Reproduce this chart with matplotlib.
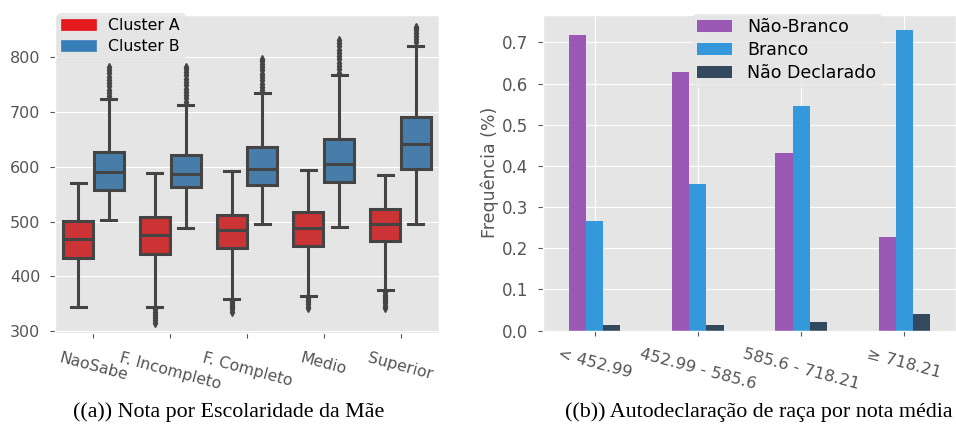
import matplotlib.pyplot as plt
import matplotlib.patches as mpatches
import numpy as np

plt.style.use('ggplot')

# Left panel: box stats
escolaridade = ['NaoSabe', 'F. Incompleto', 'F. Completo', 'Medio', 'Superior']
clusters = ['Cluster A', 'Cluster B']

a_whislo = [345, 344, 359, 364, 375]
a_q1 = [433, 441, 451, 455, 464]
a_med = [469, 476, 484, 488, 496]
a_q3 = [501, 508, 512, 518, 523]
a_whishi = [570, 588, 592, 594, 585]
a_fliers = [[],
            [340, 336, 332, 328, 324, 320, 316],
            [356, 352, 348, 344, 340, 336],
            [361, 357, 353, 349, 345, 342],
            [371, 367, 363, 359, 355, 351, 347, 343]]

b_whislo = [503, 488, 496, 490, 496]
b_q1 = [558, 562, 566, 572, 595]
b_med = [590, 586, 595, 605, 642]
b_q3 = [626, 622, 635, 650, 690]
b_whishi = [723, 713, 734, 766, 820]
b_fliers = [[728, 734, 740, 746, 752, 758, 764, 770, 776, 782],
            [718, 724, 730, 736, 742, 748, 754, 760, 766, 772, 778, 781],
            [739, 745, 751, 757, 763, 769, 775, 781, 787, 792, 796],
            [771, 777, 783, 789, 795, 801, 807, 813, 819, 825, 831],
            [826, 832, 838, 844, 848, 852, 855]]

# Right panel: frequencies
faixas = ['< 452.99', '452.99 - 585.6', '585.6 - 718.21', '\u2265 718.21']
racas = ['Não-Branco', 'Branco', 'Não Declarado']
nao_branco = [0.719, 0.628, 0.432, 0.228]
branco = [0.265, 0.357, 0.545, 0.730]
nao_declarado = [0.014, 0.014, 0.021, 0.040]

fig = plt.figure(figsize=(9.56, 4.30), dpi=100)
fig.patch.set_facecolor('white')

# ---------- boxplot ----------
ax1 = fig.add_axes([55/956, 97/430, 384/956, 318/430])
line_c = '#444444'
box_colors = ['#CB3335', '#477DA8']
x = np.arange(len(escolaridade))

for k, (lo, q1, med, q3, hi, fl) in enumerate([
        (a_whislo, a_q1, a_med, a_q3, a_whishi, a_fliers),
        (b_whislo, b_q1, b_med, b_q3, b_whishi, b_fliers)]):
    stats = []
    for i in range(len(escolaridade)):
        stats.append({'whislo': lo[i], 'q1': q1[i], 'med': med[i], 'q3': q3[i],
                      'whishi': hi[i], 'fliers': fl[i]})
    off = -0.2 if k == 0 else 0.2
    ax1.bxp(stats, positions=x + off, widths=0.39, patch_artist=True,
            boxprops=dict(facecolor=box_colors[k], edgecolor=line_c, linewidth=2.2),
            medianprops=dict(color=line_c, linewidth=2.2),
            whiskerprops=dict(color=line_c, linewidth=2.2),
            capprops=dict(color=line_c, linewidth=2.2),
            flierprops=dict(marker='d', markersize=4, markerfacecolor=line_c,
                            markeredgecolor=line_c))

ax1.set_xlim(-0.5, 4.5)
ax1.set_ylim(297, 876)
ax1.set_yticks([300, 400, 500, 600, 700, 800])
ax1.set_xticks(x)
ax1.set_xticklabels(escolaridade, rotation=-15, ha='center', fontsize=11.3)
ax1.tick_params(axis='x', pad=9)
ax1.tick_params(axis='y', labelsize=11.5, pad=7)
ax1.xaxis.grid(False)

leg_patches = [mpatches.Patch(color='#E41A1C', label=clusters[0]),
               mpatches.Patch(color='#377EB8', label=clusters[1])]
leg1 = ax1.legend(handles=leg_patches, loc='upper left', bbox_to_anchor=(0.0, 1.01),
                  fontsize=11.3, borderaxespad=0.1, borderpad=0.3, labelspacing=0.35,
                  handlelength=2.2, handletextpad=0.8)
leg1.get_frame().set_edgecolor('#E0E0E0')

# ---------- bar chart ----------
ax2 = fig.add_axes([543/956, 99.5/430, 413/956, 315.5/430])
xb = np.arange(len(faixas))
w = 0.5 / 3
ax2.bar(xb - w, nao_branco, w, color='#9B59B6', label=racas[0])
ax2.bar(xb, branco, w, color='#3498DB', label=racas[1])
ax2.bar(xb + w, nao_declarado, w, color='#34495E', label=racas[2])
ax2.set_xlim(-0.5, 3.5)
ax2.set_ylim(0, 0.7665)
ax2.set_yticks(np.arange(0, 0.71, 0.1))
ax2.set_yticklabels(['0.0', '0.1', '0.2', '0.3', '0.4', '0.5', '0.6', '0.7'])
ax2.set_xticks(xb)
ax2.set_xticklabels(faixas, rotation=-15, ha='center', fontsize=11.8)
ax2.tick_params(axis='x', pad=8)
ax2.tick_params(axis='y', labelsize=12, pad=7)
ax2.set_ylabel('Frequência (%)', fontsize=12.5, color='#555555', labelpad=2)
leg2 = ax2.legend(loc='upper center', bbox_to_anchor=(0.59, 1.01), fontsize=12.5,
                  handlelength=2.0, handletextpad=0.9, borderaxespad=0.1,
                  borderpad=0.25, labelspacing=0.3)
leg2.get_frame().set_edgecolor('#E0E0E0')

# captions
fig.text(229/956, 1 - 412/430, '((a)) Nota por Escolaridade da Mãe',
         ha='center', va='center', fontsize=15.8, family='Liberation Serif')
fig.text(759/956, 1 - 412/430, '((b)) Autodeclaração de raça por nota média',
         ha='center', va='center', fontsize=15.8, family='Liberation Serif')

plt.savefig('out.png', dpi=100)
